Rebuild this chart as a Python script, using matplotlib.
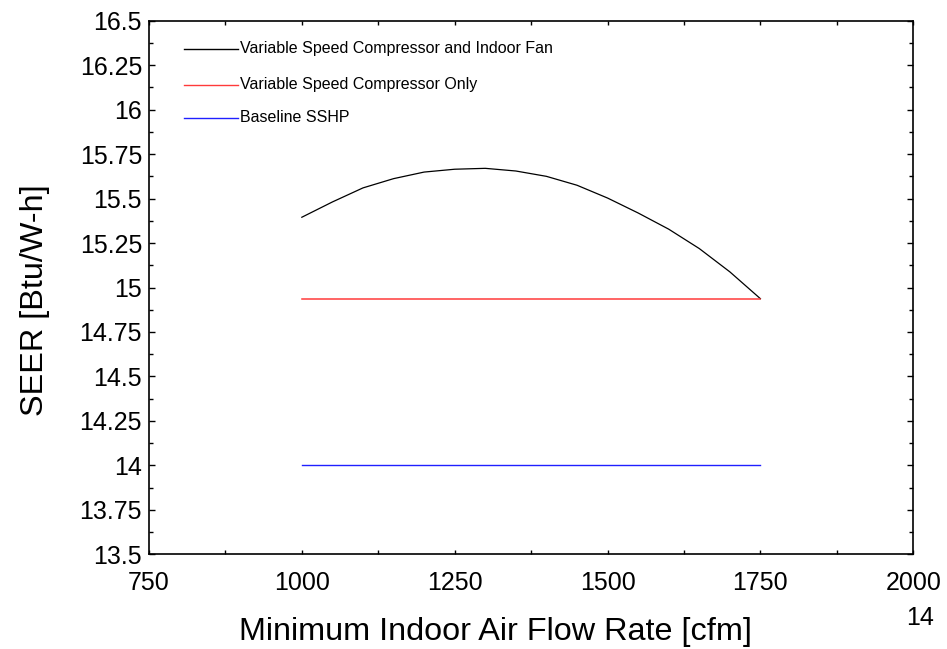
import matplotlib
matplotlib.use("Agg")
import matplotlib.pyplot as plt
from matplotlib.ticker import MultipleLocator

plt.rcParams['font.family'] = ['Liberation Sans', 'DejaVu Sans']

# minimum indoor air flow rate [cfm]
flow = [1000, 1050, 1100, 1150, 1200, 1250, 1300, 1350, 1400,
        1450, 1500, 1550, 1600, 1650, 1700, 1750]
# SEER with variable speed compressor and indoor fan
seer_vs_fan = [15.395, 15.481, 15.560, 15.612, 15.649, 15.665, 15.670, 15.655,
               15.625, 15.575, 15.503, 15.419, 15.328, 15.219, 15.088, 14.937]
seer_vs_only = 14.937
seer_baseline = 14.0

labels = ["Variable Speed Compressor and Indoor Fan",
          "Variable Speed Compressor Only",
          "Baseline SSHP"]
colors = ["black", "#ff3a3a", "#2020ff"]

fig = plt.figure(figsize=(9.47, 6.49), dpi=100)
ax = fig.add_axes([0.1573, 0.1459, 0.8071, 0.8222])

ax.plot(flow, seer_vs_fan, color=colors[0], lw=0.9)
ax.plot(flow, [seer_vs_only] * len(flow), color=colors[1], lw=1.1)
ax.plot(flow, [seer_baseline] * len(flow), color=colors[2], lw=1.0)

ax.set_xlim(750, 2000)
ax.set_ylim(13.5, 16.5)
ax.xaxis.set_major_locator(MultipleLocator(250))
ax.xaxis.set_minor_locator(MultipleLocator(125))
ax.yaxis.set_major_locator(MultipleLocator(0.25))
ax.yaxis.set_minor_locator(MultipleLocator(0.125))
ax.set_yticks(ax.get_yticks())
ax.set_yticklabels([f"{v:g}" for v in ax.get_yticks()])
ax.set_ylim(13.5, 16.5)

ax.tick_params(which="both", direction="in", top=True, right=True,
               labelsize=18, width=1.0)
ax.tick_params(axis="y", which="major", length=4.5, pad=5)
ax.tick_params(axis="y", which="minor", length=3)
ax.tick_params(axis="x", which="major", length=3, pad=12)
ax.tick_params(axis="x", which="minor", length=3)
for s in ax.spines.values():
    s.set_linewidth(1.2)

ax.set_xlabel("Minimum Indoor Air Flow Rate [cfm]", fontsize=23.3)
ax.set_ylabel("SEER [Btu/W-h]", fontsize=23.3)
ax.xaxis.set_label_coords(0.453, -0.118)
ax.yaxis.set_label_coords(-0.130, 0.476)

# legend drawn by hand: short line then label text
rows_y = [49, 85, 118]
for y, c, lab in zip(rows_y, colors, labels):
    fy = 1 - y / 649
    fig.add_artist(plt.Line2D([184 / 947, 238 / 947], [fy, fy], color=c, lw=1.0))
    fig.text(240 / 947, fy, lab, fontsize=11.5, va="center", ha="left")

fig.text(920 / 947, 1 - 618 / 649, "14", fontsize=18, ha="center", va="center")

fig.savefig("out.png", dpi=100)
